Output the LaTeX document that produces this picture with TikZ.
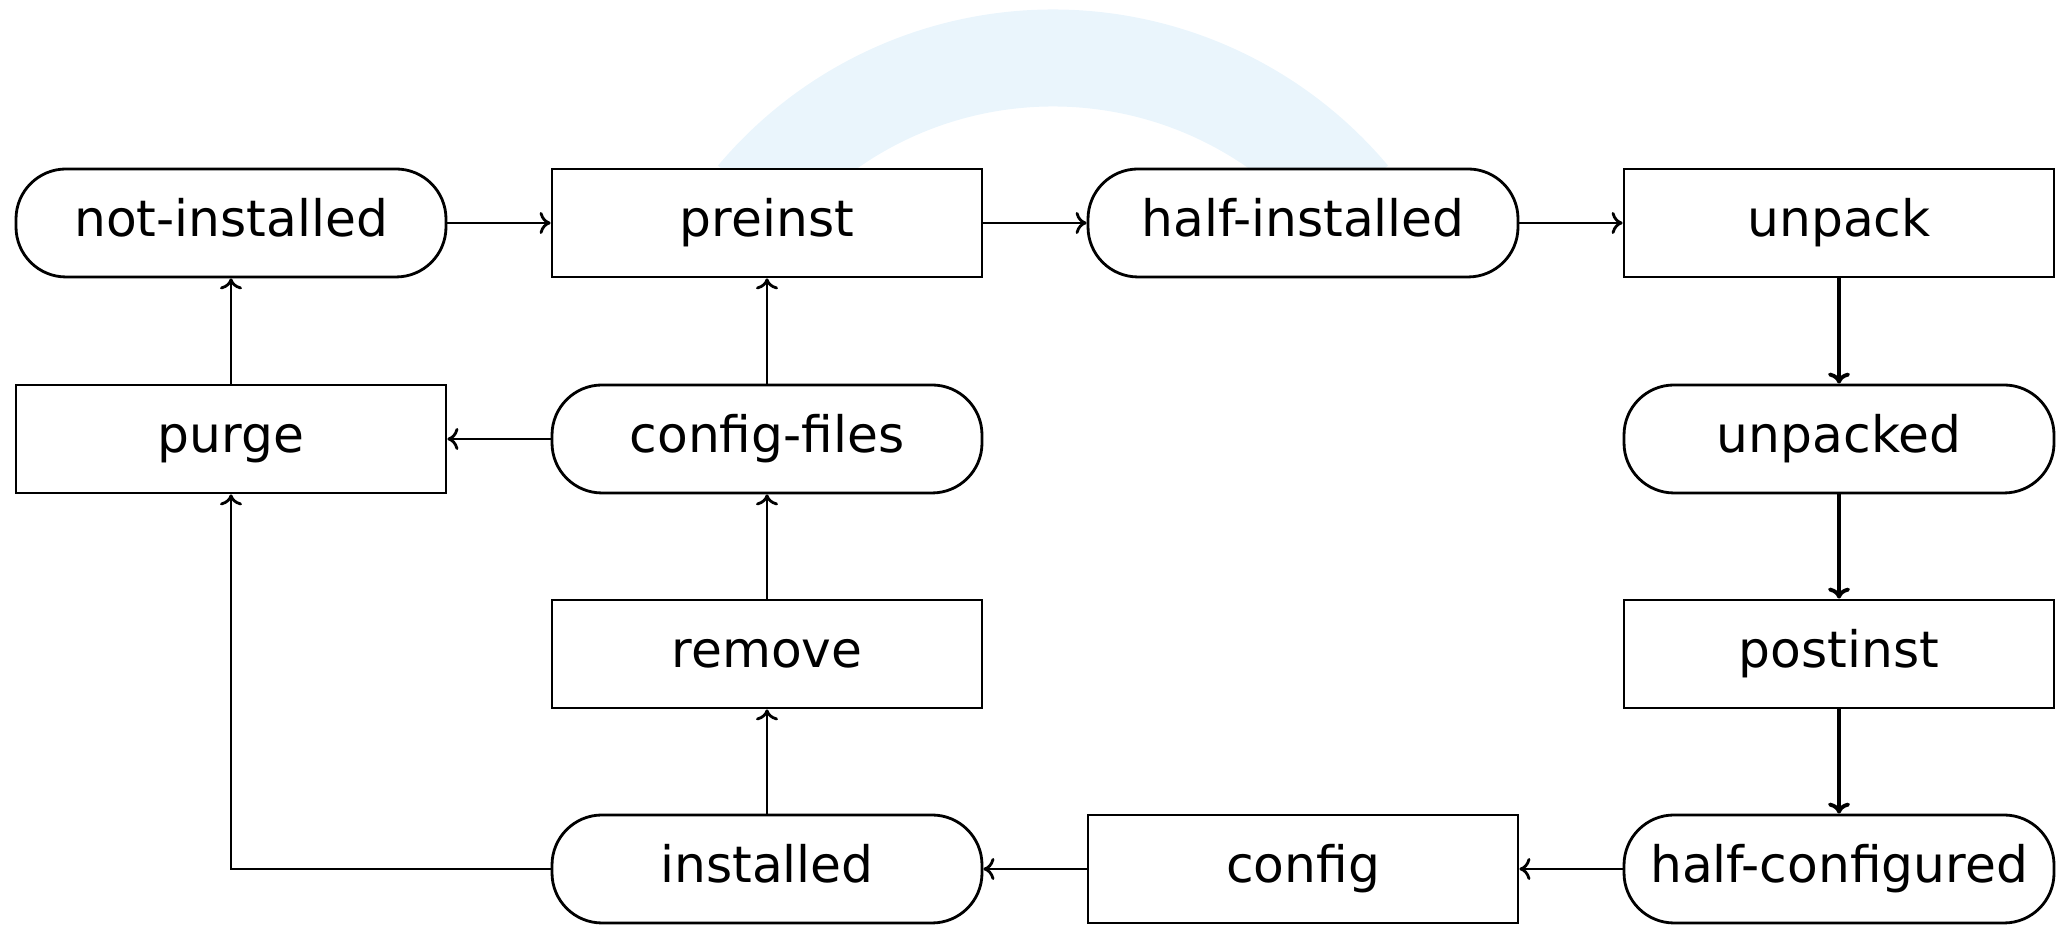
\documentclass[tikz,border=0pt]{standalone}
\usepackage{fontspec}
\setmainfont{DejaVu Sans}
\usetikzlibrary{arrows.meta}
\definecolor{wmark}{RGB}{234,245,252}
\begin{document}
\begin{tikzpicture}[line width=0.8pt,>={To[length=1.1mm,width=2.2mm]},font=\fontsize{14.3}{17}\selectfont,
	box/.style={draw,fill=white,minimum width=4.3cm,minimum height=1.08cm,inner sep=0pt,
		text height=0.98em,text depth=0.22em},
	state/.style={box,rounded corners=0.5cm}]
	\useasboundingbox (0,0) rectangle (20.56,9.25);
	% faint watermark in the background
	\draw[wmark,line width=0.97cm] (10.53,4.78) ++(140:3.89) arc(140:40:3.89);
	\node[state] (notinst) at (2.31,7.02) {not-installed};
	\node[box] (preinst) at (7.67,7.02) {preinst};
	\node[state] (halfinst) at (13.03,7.02) {half-installed};
	\node[box] (unpack) at (18.39,7.02) {unpack};
	\node[box] (purge) at (2.31,4.86) {purge};
	\node[state] (cfgfiles) at (7.67,4.86) {config-files};
	\node[state] (unpacked) at (18.39,4.86) {unpacked};
	\node[box] (remove) at (7.67,2.71) {remove};
	\node[box] (postinst) at (18.39,2.71) {postinst};
	\node[state] (installed) at (7.67,0.56) {installed};
	\node[box] (config) at (13.03,0.56) {config};
	\node[state] (halfconf) at (18.39,0.56) {half-configured};
	\draw[->] (notinst)--(preinst);
	\draw[->] (preinst)--(halfinst);
	\draw[->] (halfinst)--(unpack);
	\draw[->,line width=1.1pt] (unpack)--(unpacked);
	\draw[->,line width=1.1pt] (unpacked)--(postinst);
	\draw[->,line width=1.1pt] (postinst)--(halfconf);
	\draw[->] (halfconf)--(config);
	\draw[->] (config)--(installed);
	\draw[->] (installed)--(remove);
	\draw[->] (remove)--(cfgfiles);
	\draw[->] (cfgfiles)--(preinst);
	\draw[->] (cfgfiles)--(purge);
	\draw[->] (purge)--(notinst);
	\draw[->] (installed.west)-|(purge.south);
\end{tikzpicture}
\end{document}
